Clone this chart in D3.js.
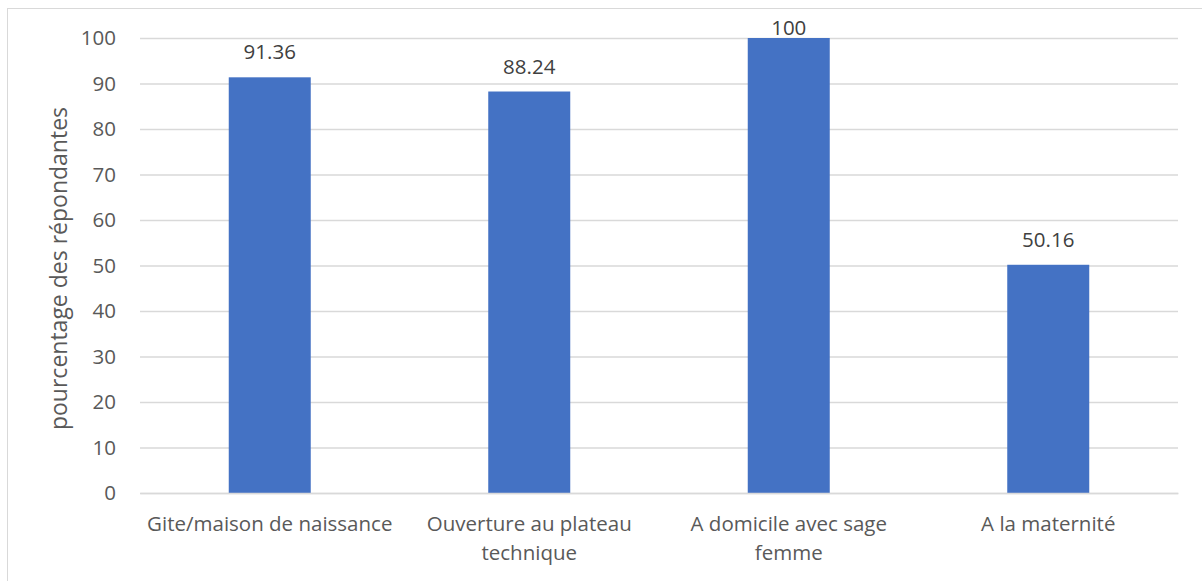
<!DOCTYPE html>
<html><head><meta charset="utf-8">
<script src="https://cdn.jsdelivr.net/npm/d3@7"></script>
<style>body{margin:0;background:#fff;} svg{display:block;}</style>
</head><body>
<svg id="chart" width="1202" height="581"></svg>
<script>
const categories = ["Gite/maison de naissance", "Ouverture au plateau technique", "A domicile avec sage femme", "A la maternité"];
const values = [91.36, 88.24, 100, 50.16];
const valueLabels = ["91.36", "88.24", "100", "50.16"];
const yTicks = [0, 10, 20, 30, 40, 50, 60, 70, 80, 90, 100];
const yTitle = "pourcentage des répondantes";

const font = "'Open Sans', sans-serif";
const fs = 20.5;
const svg = d3.select("#chart");
const W = 1202, H = 581;
const m = {left: 140, right: 24, top: 38, bottom: 88};

svg.append("rect").attr("x", 7.5).attr("y", 8.5).attr("width", W + 10).attr("height", H + 10)
  .attr("fill", "#fff").attr("stroke", "#d9d9d9").attr("stroke-width", 1);

const x = d3.scaleBand().domain(categories).range([m.left, W - m.right]).paddingInner(0.684).paddingOuter(0.342);
const y = d3.scaleLinear().domain([0, 100]).range([H - m.bottom, m.top]);

const yAxis = svg.append("g").attr("transform", `translate(${m.left},0)`)
  .call(d3.axisLeft(y).tickValues(yTicks).tickSize(-(W - m.right - m.left)).tickPadding(24));
yAxis.select(".domain").remove();
yAxis.selectAll(".tick line").attr("stroke", "#d9d9d9").attr("stroke-width", 1.3);
yAxis.selectAll(".tick text").attr("fill", "#595959").attr("font-size", fs).attr("font-family", font);

svg.append("g").selectAll("rect").data(values).join("rect")
  .attr("x", (d, i) => x(categories[i]))
  .attr("width", x.bandwidth())
  .attr("y", d => y(d))
  .attr("height", d => y(0) - y(d))
  .attr("fill", "#4472c4");

svg.append("g").selectAll("text").data(values).join("text")
  .attr("x", (d, i) => x(categories[i]) + x.bandwidth() / 2)
  .attr("y", d => Math.max(y(d) - 25, 28))
  .attr("dy", "0.35em")
  .attr("text-anchor", "middle")
  .attr("fill", "#404040").attr("font-size", fs).attr("font-family", font)
  .text((d, i) => valueLabels[i]);

const xAxis = svg.append("g").attr("transform", `translate(0,${y(0)})`)
  .call(d3.axisBottom(x).tickSize(0).tickPadding(0));
xAxis.select(".domain").attr("stroke", "#d9d9d9").attr("stroke-width", 1.3);
const ctx = document.createElement("canvas").getContext("2d");
ctx.font = fs + "px " + font;
xAxis.selectAll(".tick text").attr("fill", "#595959").attr("font-size", fs).attr("font-family", font)
  .each(function(d) {
    const t = d3.select(this);
    t.text(null);
    const maxW = x.step() - 2;
    const words = d.split(" ");
    let lines = [], cur = "";
    words.forEach(w => {
      const test = cur ? cur + " " + w : w;
      if (ctx.measureText(test).width > maxW && cur) { lines.push(cur); cur = w; } else cur = test;
    });
    lines.push(cur);
    t.attr("dy", null).attr("y", 0);
    lines.forEach((l, i) => t.append("tspan").attr("x", 0).attr("y", 38 + i * 29).text(l));
  });

svg.append("text")
  .attr("transform", `translate(67,${(y(0) + y(100)) / 2 + 3}) rotate(-90)`)
  .attr("text-anchor", "middle").attr("fill", "#595959").attr("font-size", 23).attr("font-family", font)
  .text(yTitle);
</script>
</body></html>
